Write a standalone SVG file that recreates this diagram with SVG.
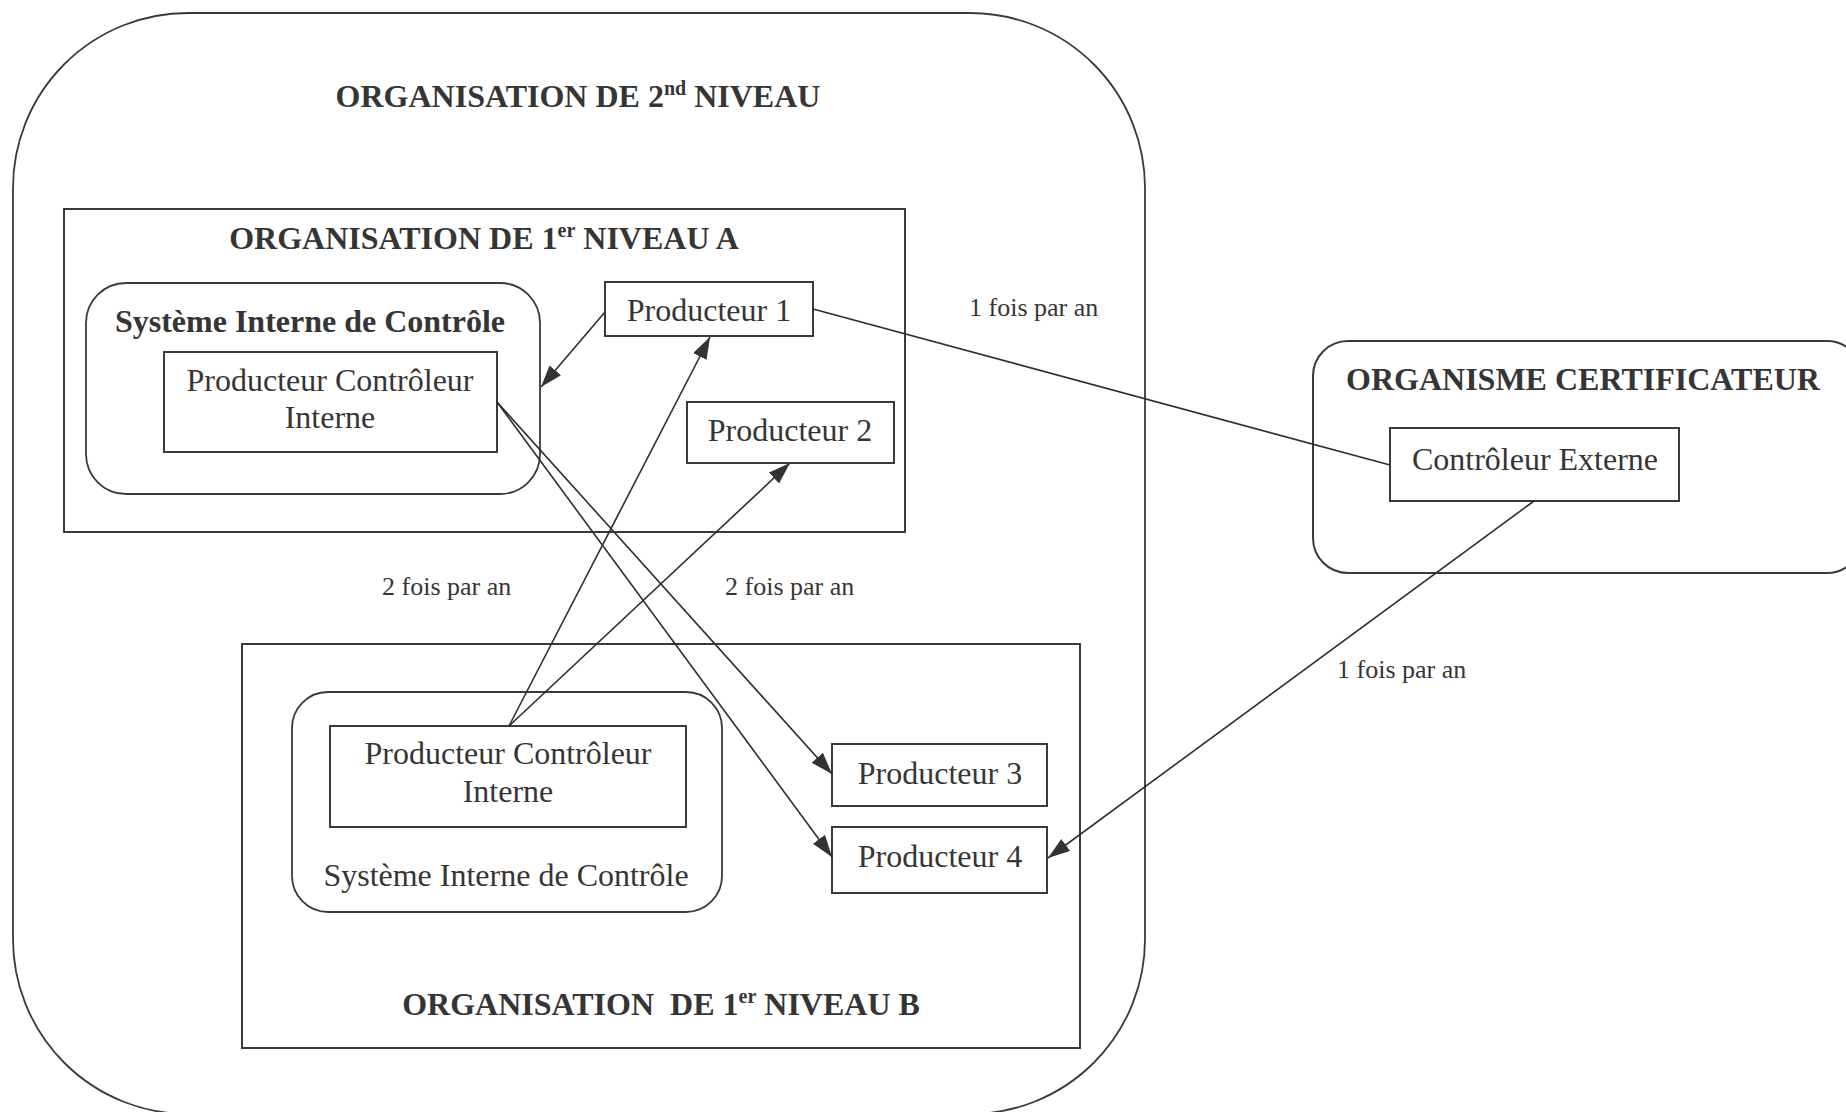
<svg xmlns="http://www.w3.org/2000/svg" width="1846" height="1112" viewBox="0 0 1846 1112">
<style>
.box{fill:none;stroke:#3a3a3a;stroke-width:2}
.frame{fill:none;stroke:#3a3a3a;stroke-width:1.8}
.t{font-family:"Liberation Serif","Times New Roman",serif;fill:#353535;font-size:32px}
.b{font-weight:bold}
.m{text-anchor:middle}
.s{font-size:26px}
.conn line{stroke:#2e2e2e;stroke-width:1.6}
</style>
<defs>
<marker id="arr" markerUnits="userSpaceOnUse" markerWidth="24" markerHeight="16" refX="22" refY="7.5" orient="auto">
<path d="M0,0 L22,7.5 L0,15 z" fill="#333"/>
</marker>
</defs>
<rect width="1846" height="1112" fill="#fff"/>

<g id="org2">
<rect class="frame" x="13" y="13" width="1132" height="1101" rx="175" ry="175"/>
<text class="t b m" x="578" y="107">ORGANISATION DE 2<tspan font-size="20" dy="-12">nd</tspan><tspan dy="12"> NIVEAU</tspan></text>
</g>

<g id="orgA">
<rect class="box" x="64" y="209" width="841" height="323"/>
<text class="t b m" x="484" y="249">ORGANISATION DE 1<tspan font-size="20" dy="-12">er</tspan><tspan dy="12"> NIVEAU A</tspan></text>
</g>

<g id="sicA">
<rect class="frame" x="86" y="283" width="454" height="211" rx="40" ry="40"/>
<text class="t b m" x="310" y="332">Système Interne de Contrôle</text>
</g>

<g id="pciA">
<rect class="box" x="164" y="352" width="333" height="100"/>
<text class="t m" x="330" y="391">Producteur Contrôleur</text>
<text class="t m" x="330" y="428">Interne</text>
</g>

<g id="p1">
<rect class="box" x="605" y="282" width="208" height="54"/>
<text class="t m" x="709" y="321">Producteur 1</text>
</g>

<g id="p2">
<rect class="box" x="687" y="402" width="207" height="61"/>
<text class="t m" x="790" y="441">Producteur 2</text>
</g>

<g id="cert">
<rect class="box" x="1313" y="341" width="549" height="232" rx="35" ry="35"/>
<text class="t b m" x="1583" y="390">ORGANISME CERTIFICATEUR</text>
</g>

<g id="ce">
<rect class="box" x="1390" y="428" width="289" height="73"/>
<text class="t m" x="1535" y="470">Contrôleur Externe</text>
</g>

<g id="orgB">
<rect class="box" x="242" y="644" width="838" height="404"/>
<text class="t b m" x="661" y="1015" xml:space="preserve">ORGANISATION  DE 1<tspan font-size="20" dy="-12">er</tspan><tspan dy="12"> NIVEAU B</tspan></text>
</g>

<g id="sicB">
<rect class="frame" x="292" y="692" width="430" height="220" rx="36" ry="36"/>
<text class="t m" x="506" y="886">Système Interne de Contrôle</text>
</g>

<g id="pciB">
<rect class="box" x="330" y="726" width="356" height="101"/>
<text class="t m" x="508" y="764">Producteur Contrôleur</text>
<text class="t m" x="508" y="802">Interne</text>
</g>

<g id="p3">
<rect class="box" x="832" y="744" width="215" height="62"/>
<text class="t m" x="940" y="784">Producteur 3</text>
</g>

<g id="p4">
<rect class="box" x="832" y="827" width="215" height="66"/>
<text class="t m" x="940" y="867">Producteur 4</text>
</g>

<g id="connectors" class="conn">
<line x1="605" y1="312" x2="541" y2="387" marker-end="url(#arr)"/>
<line x1="497" y1="402" x2="832" y2="774" marker-end="url(#arr)"/>
<line x1="497" y1="402" x2="832" y2="857" marker-end="url(#arr)"/>
<line x1="509" y1="726" x2="710" y2="337" marker-end="url(#arr)"/>
<line x1="509" y1="726" x2="790" y2="463" marker-end="url(#arr)"/>
<line x1="813" y1="309" x2="1390" y2="465"/>
<line x1="1534" y1="501" x2="1048" y2="858" marker-end="url(#arr)"/>
</g>

<g id="labels">
<text class="t s" x="969" y="316">1 fois par an</text>
<text class="t s" x="382" y="595">2 fois par an</text>
<text class="t s" x="725" y="595">2 fois par an</text>
<text class="t s" x="1337" y="678">1 fois par an</text>
</g>
</svg>
